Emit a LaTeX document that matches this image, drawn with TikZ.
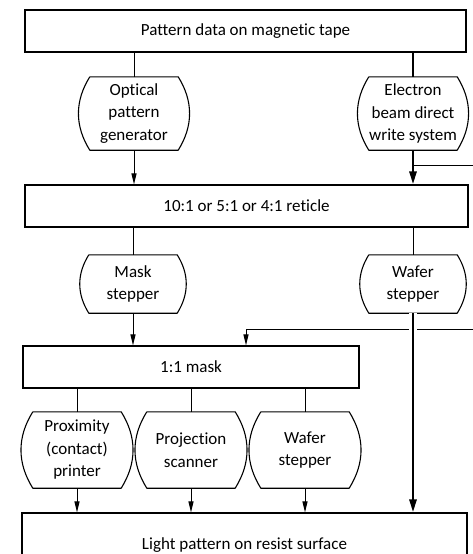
\documentclass[tikz,border=0pt]{standalone}
\usepackage{fontspec}
\setmainfont[Ligatures={NoCommon, NoContextual}]{Carlito}
\usepackage{tikz}
\usetikzlibrary{arrows.meta, positioning}

\begin{document}
\begin{tikzpicture}[x=1pt, y=1pt,
    stage/.style={
        rectangle, draw, line width=1.1pt, minimum height=42pt,
        inner sep=0pt, font=\fontsize{17}{22}\selectfont
    },
    proc/.style={
        minimum width=108pt, minimum height=#1, inner sep=0pt,
        align=center, font=\fontsize{17}{22.5}\selectfont
    },
    proc/.default=73pt,
    arr/.style={-{Triangle[length=11pt, width=5pt]}, line width=1pt},
    tarr/.style={-{Triangle[length=13pt, width=7pt]}, line width=2.6pt},
    link/.style={line width=1pt},
    tlink/.style={line width=2.6pt}
]
\useasboundingbox (0,0) rectangle (472,-554);

% data source and intermediate media
\node[stage, minimum width=441pt] (tape)    at (245.5,-31)  {Pattern data on magnetic tape};
\node[stage, minimum width=443pt] (reticle) at (246.5,-206) {10:1 or 5:1 or 4:1 reticle};
\node[stage, minimum width=336pt] (mask)    at (191,-367)   {1:1 mask};
\node[stage, minimum width=445pt, minimum height=64pt] (resist) at (244.5,-545) {Light pattern on resist surface};

% exposure tools
\node[proc]       (opg)     at (134,-113.5) {Optical\\pattern\\generator};
\node[proc]       (ebeam)   at (413,-113.5) {Electron\\beam direct\\write system};
\node[proc=58pt]  (mstep)   at (133,-284)   {Mask\\stepper};
\node[proc=58pt]  (wstep)   at (413,-284)   {Wafer\\stepper};
\node[proc=76pt]  (prox)    at (77,-450)    {Proximity\\(contact)\\printer};
\node[proc=76pt]  (proj)    at (191,-450)   {Projection\\scanner};
\node[proc=76pt]  (wstepb)  at (305,-450)   {Wafer\\stepper};

% barrel outlines
\foreach \n in {opg, ebeam, mstep, wstep, prox, proj, wstepb}
    \draw[line width=1.1pt, line join=round]
        ([xshift=10pt]\n.north west) -- ([xshift=-10pt]\n.north east)
        to[out=-58, in=58] ([xshift=-10pt]\n.south east)
        -- ([xshift=10pt]\n.south west)
        to[out=122, in=-122] ([xshift=10pt]\n.north west);

% optical path
\draw[link] (tape.south -| opg.north) -- (opg.north);
\draw[arr] (opg.south) -- (opg.south |- reticle.north);
\draw[link] (reticle.south -| mstep.north) -- (mstep.north);
\draw[arr] (mstep.south) -- (mstep.south |- mask.north);
\draw[link] (mask.south -| prox.north) -- (prox.north);
\draw[link] (mask.south -| proj.north) -- (proj.north);
\draw[link] (mask.south -| wstepb.north) -- (wstepb.north);
\draw[arr] (prox.south) -- (prox.south |- resist.north);
\draw[arr] (proj.south) -- (proj.south |- resist.north);
\draw[arr] (wstepb.south) -- (wstepb.south |- resist.north);

% e-beam path
\draw[tlink] (tape.south -| ebeam.north) -- (ebeam.north);
\draw[tarr] (ebeam.south) -- (ebeam.south |- reticle.north);
\draw[link] (reticle.south -| wstep.north) -- (wstep.north);

% e-beam written mask, routed round the right edge
\coordinate (tap)  at (413,-165);
\coordinate (out1) at (486,-165);
\coordinate (out2) at (486,-329);
\coordinate (drop) at (246,-329);
\draw[link] (tap) -- (out1) -- (out2) -- (drop);
\draw[arr] (drop) -- (drop |- mask.north);

% direct wafer exposure, passing over the mask line
\draw[tarr, preaction={draw=white, line width=8pt, -}] (wstep.south) -- (wstep.south |- resist.north);

\end{tikzpicture}
\end{document}
